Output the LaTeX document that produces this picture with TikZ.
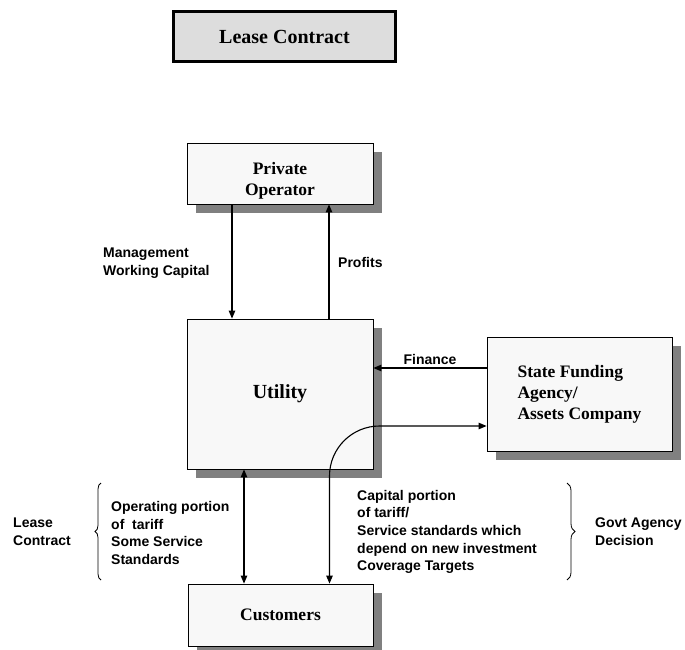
\documentclass[tikz,border=0pt]{standalone}
\usepackage{fontspec}
\setmainfont{Liberation Serif}
\setsansfont{Liberation Sans}
\usetikzlibrary{arrows.meta,shadows,decorations.pathreplacing,calc}
\definecolor{boxfill}{HTML}{F8F8F8}
\definecolor{titlefill}{HTML}{DDDDDD}
\definecolor{shgray}{HTML}{808080}
\begin{document}
\begin{tikzpicture}[x=1pt,y=1pt,
  box/.style={draw, line width=0.8pt, fill=boxfill,
    general shadow={fill=shgray, shadow xshift=9pt, shadow yshift=-9pt},
    inner sep=0pt, align=center,
    font=\fontsize{17.5}{21}\selectfont\bfseries},
  boxtext/.style={inner sep=0pt, align=center,
    font=\fontsize{17.5}{21}\selectfont\bfseries},
  lbl/.style={inner sep=0pt, align=left, anchor=west,
    font=\sffamily\bfseries\fontsize{14}{17.7}\selectfont},
  arr/.style={line width=1.1pt, -{Triangle[length=8pt,width=6.5pt]}},
  darr/.style={line width=1.1pt, {Triangle[length=8pt,width=6.5pt]}-{Triangle[length=8pt,width=6.5pt]}},
  brc/.style={decorate, line width=0.8pt}
]
\useasboundingbox (0,0) rectangle (685,-650);

% title
\node[draw, line width=3pt, fill=titlefill, minimum width=222pt, minimum height=50pt,
  inner sep=0pt, font=\fontsize{20}{24}\selectfont\bfseries] (title) at (284.5,-36.5) {Lease Contract};

% boxes
\node[box, minimum width=186pt, minimum height=61pt] (po) at (280,-173.5) {};
\node[boxtext] (potext) at (280,-181) {Private\\Operator};
\node[box, minimum width=186pt, minimum height=150pt, font=\fontsize{20}{24}\selectfont\bfseries] (ut) at (280,-394) {Utility};
\node[box, minimum width=185pt, minimum height=114pt, align=left] (sfa) at (579.5,-394) {State Funding\\Agency/\\Assets Company};
\node[box, minimum width=185pt, minimum height=62pt] (cu) at (280.5,-615) {Customers};

% connectors
\draw[arr] ([xshift=-48pt]po.south) -- ([xshift=-48pt]po.south |- ut.north);
\draw[arr] ([xshift=49pt]po.south |- ut.north) -- ([xshift=49pt]po.south);
\draw[arr] ([yshift=26pt]sfa.west) -- ([yshift=26pt]sfa.west -| ut.east);
\draw[darr] ([xshift=-36pt]ut.south) -- ([xshift=-36pt]ut.south |- cu.north);
\draw[darr] ([xshift=49pt]cu.north) -- ([xshift=49pt]cu.north |- 0,-476)
  arc[start angle=180, end angle=90, radius=50] -- ([yshift=-32pt]sfa.west);

% labels
\node[lbl] (mgmt) at (103,-263) {Management\\Working Capital};
\node[lbl] (profits) at (338,-262) {Profits};
\node[lbl, anchor=center] (finance) at (430,-359) {Finance};
\node[lbl] (leasec) at (13,-532) {Lease\\Contract};
\node[lbl] (oper) at (111,-533) {Operating portion\\of\ \ tariff\\Some Service\\Standards};
\node[lbl] (capital) at (357,-532) {Capital portion\\of tariff/\\Service standards which\\depend on new investment\\Coverage Targets};
\node[lbl] (govt) at (595,-532) {Govt Agency\\Decision};

% braces
\draw[brc, decoration={brace, amplitude=6pt}] (101,-580) -- (101,-483);
\draw[brc, decoration={brace, amplitude=8pt}] (567,-483) -- (567,-580);
\end{tikzpicture}
\end{document}
